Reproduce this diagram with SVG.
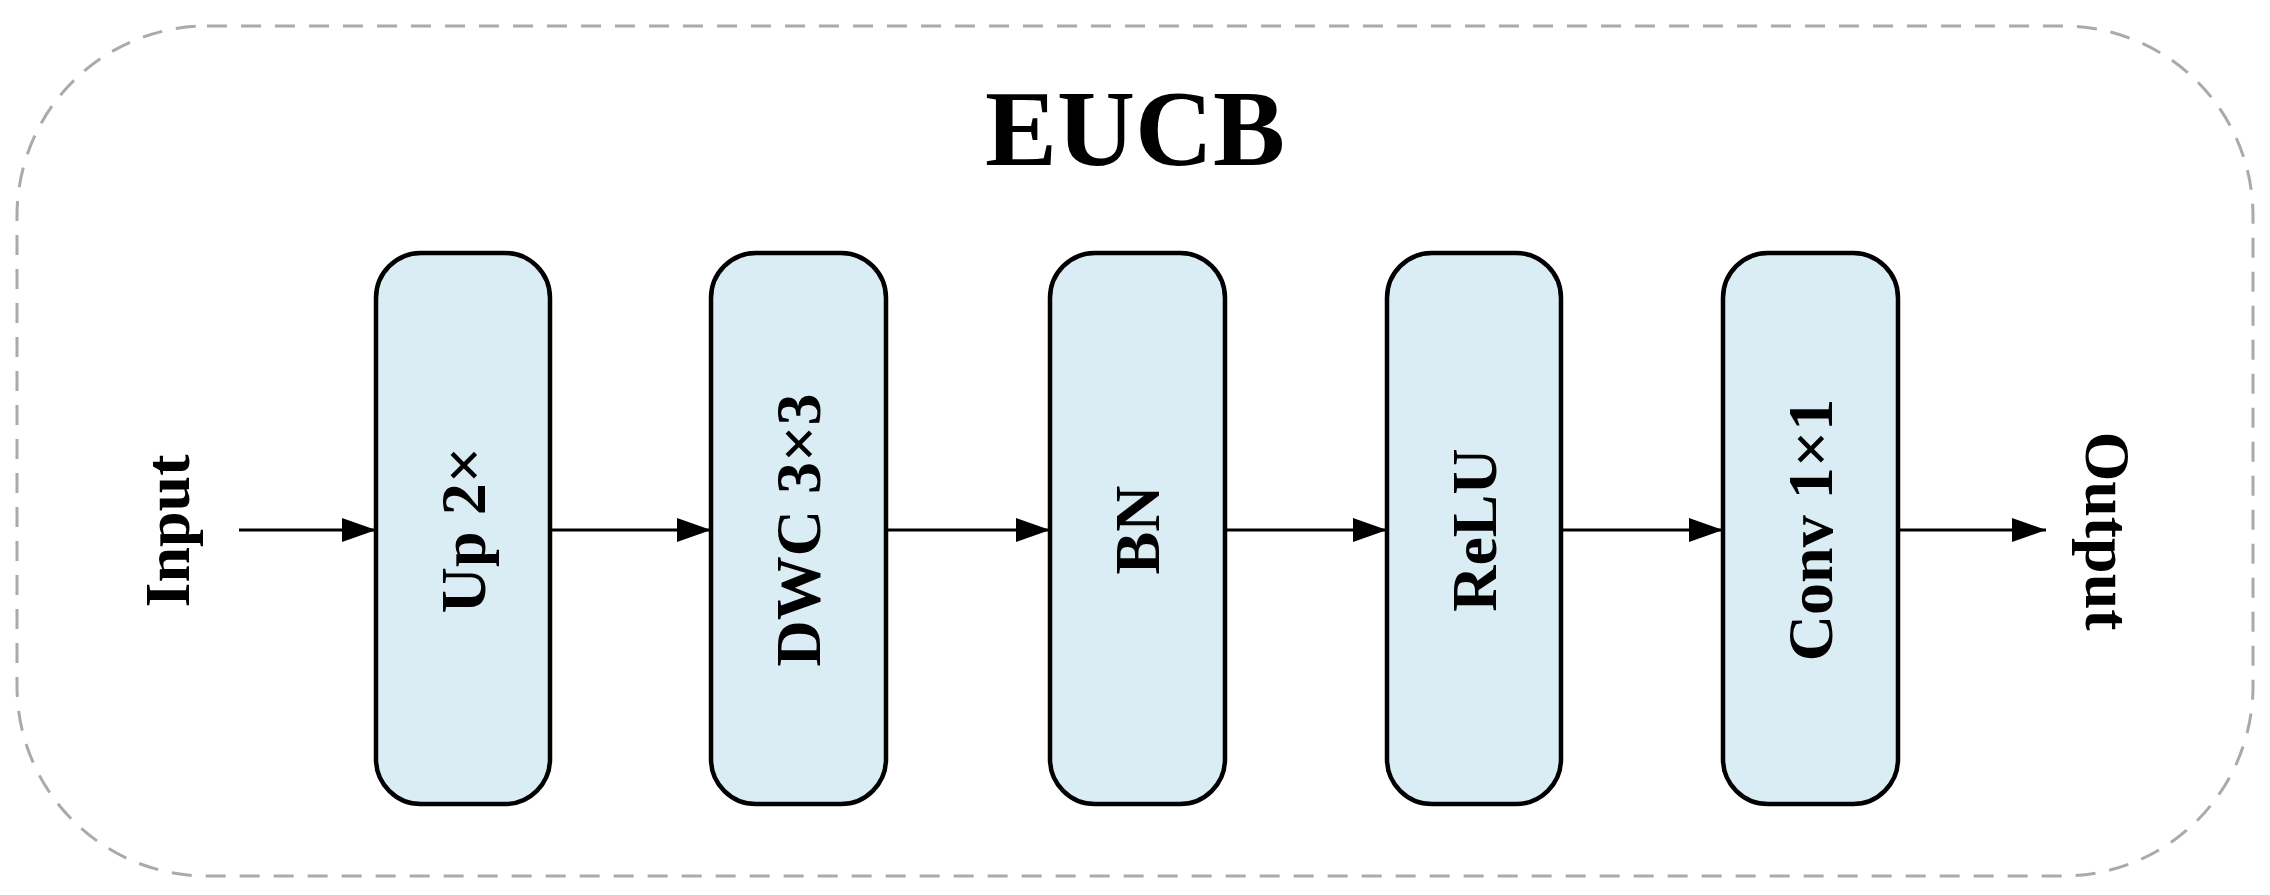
<svg xmlns="http://www.w3.org/2000/svg" width="2270" height="895" viewBox="0 0 2270 895">
<style>
.box{fill:#daedf4;stroke:#000;stroke-width:4.5}
.t{font-family:"Liberation Serif",serif;font-weight:bold;font-size:64px;fill:#000;text-anchor:middle;dominant-baseline:central}
.c{stroke:#000;stroke-width:3;fill:none;marker-end:url(#a)}
</style>
<defs><marker id="a" markerWidth="12" markerHeight="12" refX="11" refY="6" orient="auto" markerUnits="userSpaceOnUse"><path d="M0,0 L30,6 L0,12 Z" transform="scale(0.4,1)"/></marker>
<marker id="b" viewBox="0 0 10 10" markerWidth="34" markerHeight="34" refX="10" refY="5" orient="auto" markerUnits="userSpaceOnUse"><path d="M0,1.5 L10,5 L0,8.5 Z"/></marker></defs>
<rect x="17" y="26" width="2236" height="850" rx="190" fill="none" stroke="#aaa" stroke-width="3" stroke-dasharray="20,14"/>
<text x="1135" y="128" class="t" style="font-size:108px">EUCB</text>
<g id="up"><rect class="box" x="376" y="253" width="174" height="551" rx="45"/><text class="t" transform="translate(463,530) rotate(-90)">Up 2×</text></g>
<g id="dwc"><rect class="box" x="711" y="253" width="175" height="551" rx="45"/><text class="t" transform="translate(798,530) rotate(-90)">DWC 3×3</text></g>
<g id="bn"><rect class="box" x="1050" y="253" width="175" height="551" rx="45"/><text class="t" transform="translate(1137,530) rotate(-90)">BN</text></g>
<g id="relu"><rect class="box" x="1387" y="253" width="174" height="551" rx="45"/><text class="t" transform="translate(1474,530) rotate(-90)">ReLU</text></g>
<g id="conv"><rect class="box" x="1723" y="253" width="175" height="551" rx="45"/><text class="t" transform="translate(1810,530) rotate(-90)">Conv 1×1</text></g>
<g id="input"><text class="t" transform="translate(167,531) rotate(-90)">Input</text></g>
<g id="output"><text class="t" transform="translate(2107,531) rotate(90)">Output</text></g>
<g id="connectors" stroke="#000" stroke-width="3" marker-end="url(#b)">
<line x1="239" y1="530" x2="376" y2="530"/>
<line x1="550" y1="530" x2="711" y2="530"/>
<line x1="886" y1="530" x2="1050" y2="530"/>
<line x1="1225" y1="530" x2="1387" y2="530"/>
<line x1="1561" y1="530" x2="1723" y2="530"/>
<line x1="1898" y1="530" x2="2046" y2="530"/>
</g>
</svg>
